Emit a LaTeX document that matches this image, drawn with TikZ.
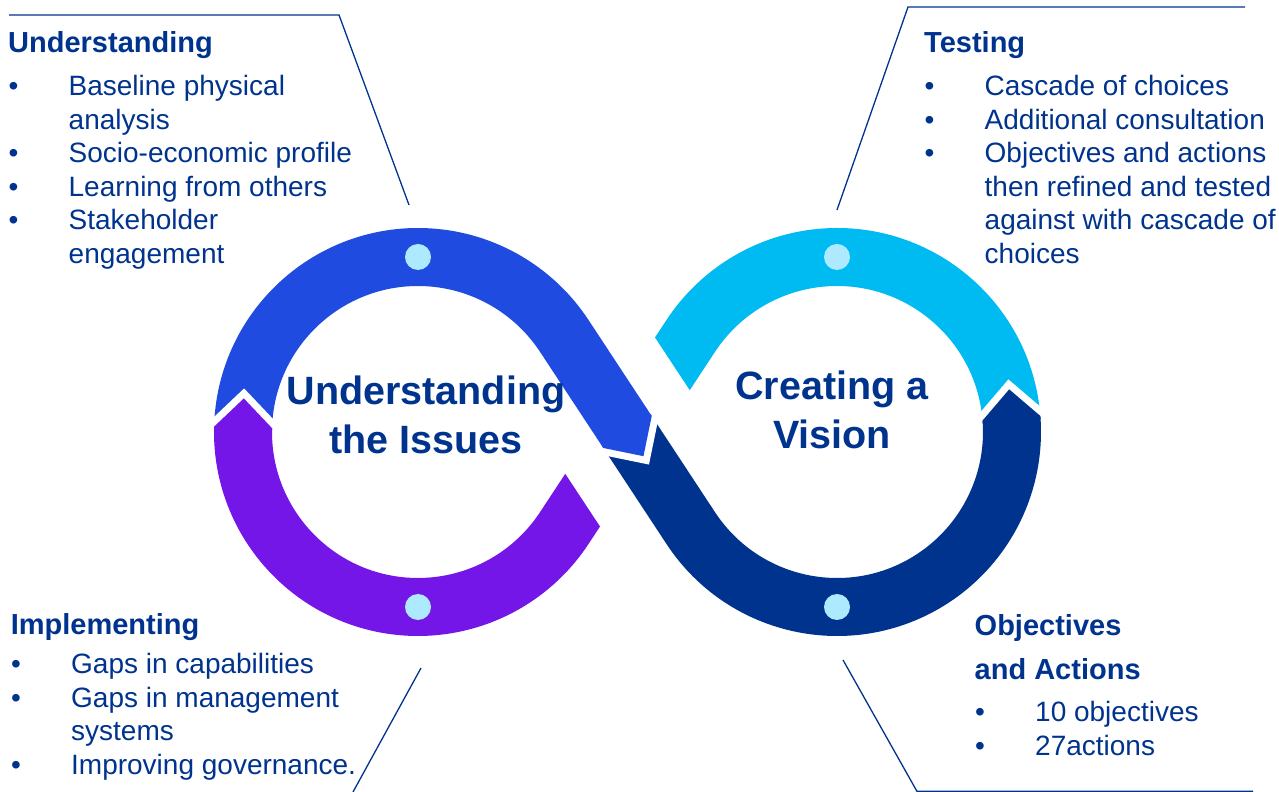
\documentclass[tikz,border=0pt]{standalone}
\usepackage{fontspec}
\setmainfont{Liberation Sans}
\usepackage{tikz}
\usetikzlibrary{calc}
\definecolor{loopblue}{RGB}{32,75,224}
\definecolor{looppurple}{RGB}{117,22,232}
\definecolor{loopcyan}{RGB}{0,186,242}
\definecolor{loopnavy}{RGB}{0,51,141}
\definecolor{beadcol}{RGB}{173,233,255}
\definecolor{inkblue}{RGB}{0,51,141}
\begin{document}
\begin{tikzpicture}[x=1pt, y=1pt,
  band/.style={line width=58pt, line cap=butt},
  bead/.style={circle, fill=beadcol, minimum size=26pt, inner sep=0pt},
  leader/.style={draw=inkblue, line width=1.3pt},
  headtext/.style={text=inkblue, font=\bfseries\fontsize{29}{44}\selectfont, inner sep=0pt, anchor=base west},
  listtext/.style={text=inkblue, font=\fontsize{28}{33.5}\selectfont, inner sep=0pt, anchor=base west},
  titletext/.style={text=inkblue, font=\bfseries\fontsize{39.5}{49}\selectfont, inner sep=0pt, anchor=base}]
\useasboundingbox (0,0) rectangle (1279,792);
\coordinate (L) at (418,360);
\coordinate (R) at (837,360);
\coordinate (M) at (627.5,360);
%%%%% Bands %%%%%
\draw[band, loopblue] ($(L)+(178.5:175)$) arc[start angle=178.5, end angle=33.4, radius=175] -- (M);
\draw[band, loopnavy] (M) -- ($(R)+(213.4:175)$) arc[start angle=213.4, end angle=364.5, radius=175];
\begin{scope}
\clip ($(M)+(33.4:75)+(-56.6:400)$) -- ($(M)+(33.4:75)+(123.4:400)$) -- ++(33.4:800) -- ++(-56.6:800) -- cycle;
\draw[band, loopcyan] ($(R)+(4.5:175)$) arc[start angle=4.5, end angle=146.6, radius=175] -- (M);
\end{scope}
\begin{scope}
\clip ($(M)+(213.4:75)+(-56.6:400)$) -- ($(M)+(213.4:75)+(123.4:400)$) -- ++(213.4:800) -- ++(-56.6:800) -- cycle;
\draw[band, looppurple] ($(L)+(178.5:175)$) arc[start angle=178.5, end angle=326.6, radius=175] -- (M);
\end{scope}
%%%%% Joints %%%%%
\begin{scope}[shift={(L)}, rotate=178.5]
\fill[white] (144,0) -- (206,0) -- (206,-8) -- (175,-39) -- (144,-8) -- cycle;
\fill[looppurple] (146,3) -- (146,0) -- (175,-29) -- (204,0) -- (204,3) -- cycle;
\end{scope}
\begin{scope}[shift={(R)}, rotate=4.5]
\fill[white] (144,0) -- (206,0) -- (206,8) -- (175,39) -- (144,8) -- cycle;
\fill[loopnavy] (146,-3) -- (146,0) -- (175,29) -- (204,0) -- (204,-3) -- cycle;
\end{scope}
\begin{scope}[shift={(M)}, rotate=-56.6]
\fill[white] (0,-31) -- (0,31) -- (8,31) -- (39,0) -- (8,-31) -- cycle;
\fill[loopblue] (-3,-29) -- (0,-29) -- (29,0) -- (0,29) -- (-3,29) -- cycle;
\end{scope}
%%%%% Beads %%%%%
\node[bead] (beadul) at ($(L)+(90:175)$) {};
\node[bead] (beadll) at ($(L)+(270:175)$) {};
\node[bead] (beadur) at ($(R)+(90:175)$) {};
\node[bead] (beadlr) at ($(R)+(270:175)$) {};
%%%%% Leaders %%%%%
\coordinate (tla) at (9,777); \coordinate (tlb) at (339,777); \coordinate (tlc) at (409,587);
\coordinate (tra) at (1245,785); \coordinate (trb) at (908,785); \coordinate (trc) at (837,582);
\coordinate (bla) at (421,124); \coordinate (blb) at (353,0);
\coordinate (bra) at (843,132); \coordinate (brb) at (917,0.6); \coordinate (brc) at (1253,0.6);
\draw[leader] (tla) -- (tlb) -- (tlc);
\draw[leader] (tra) -- (trb) -- (trc);
\draw[leader] (bla) -- (blb);
\draw[leader] (bra) -- (brb) -- (brc);
%%%%% Titles %%%%%
\node[titletext] (issues) at (426,387) {\begin{tabular}[t]{@{}c@{}}Understanding\\the Issues\end{tabular}};
\node[titletext] (vision) at (832,392) {\begin{tabular}[t]{@{}c@{}}Creating a\\Vision\end{tabular}};
%%%%% Lists %%%%%
\node[headtext] (undhead) at (8,739) {Understanding};
\node[listtext] (undlist) at (8.5,696) {\begin{tabular}[t]{@{}p{60pt}@{}l@{}}
\textbullet & Baseline physical\\
 & analysis\\
\textbullet & Socio-economic profile\\
\textbullet & Learning from others\\
\textbullet & Stakeholder\\
 & engagement
\end{tabular}};
\node[headtext] (testhead) at (924,739) {Testing};
\node[listtext] (testlist) at (924.5,696) {\begin{tabular}[t]{@{}p{60pt}@{}l@{}}
\textbullet & Cascade of choices\\
\textbullet & Additional consultation\\
\textbullet & Objectives and actions\\
 & then refined and tested\\
 & against with cascade of\\
 & choices
\end{tabular}};
\node[headtext] (implhead) at (10.6,157) {Implementing};
\node[listtext] (impllist) at (11,118) {\begin{tabular}[t]{@{}p{60pt}@{}l@{}}
\textbullet & Gaps in capabilities\\
\textbullet & Gaps in management\\
 & systems\\
\textbullet & Improving governance.
\end{tabular}};
\node[headtext] (objhead) at (974.5,156) {\begin{tabular}[t]{@{}l@{}}Objectives\\and Actions\end{tabular}};
\node[listtext] (objlist) at (975,70) {\begin{tabular}[t]{@{}p{60pt}@{}l@{}}
\textbullet & 10 objectives\\
\textbullet & 27actions
\end{tabular}};
\end{tikzpicture}
\end{document}
